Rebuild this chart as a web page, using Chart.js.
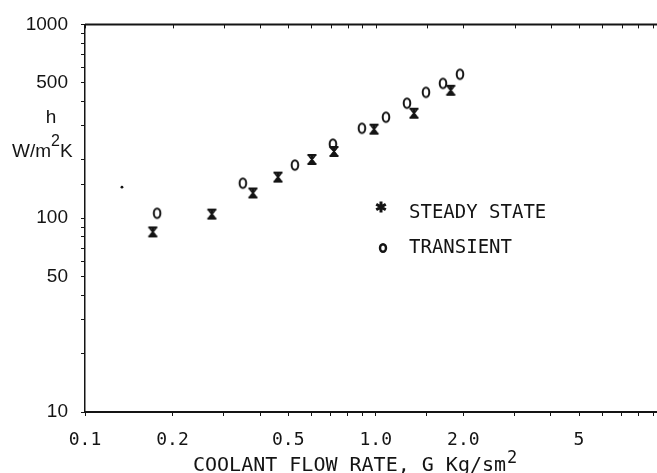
<!DOCTYPE html>
<html>
<head>
<meta charset="utf-8">
<script src="https://cdn.jsdelivr.net/npm/chart.js@4/dist/chart.umd.min.js"></script>
<style>
  html, body { margin: 0; padding: 0; background: #fff; }
  #wrap { width: 657px; height: 473px; }
</style>
</head>
<body>
<div id="wrap"><canvas id="c" width="657" height="473"></canvas></div>
<script>
// ---- data ----
const steadyFlow = [0.171, 0.273, 0.378, 0.461, 0.603, 0.718, 0.986, 1.353, 1.81];
const steadyH    = [85, 105, 135, 163, 201, 221, 288, 348, 457];
const transientFlow = [0.177, 0.349, 0.527, 0.712, 0.896, 1.084, 1.28, 1.488, 1.702, 1.948];
const transientH    = [106, 151.5, 188, 241, 291, 332, 392, 446, 496, 553];
const strayFlow = [0.134];
const strayH    = [144.5];

const xTickValues = [0.1, 0.2, 0.5, 1, 2, 5];
const xTickLabels = ['0.1', '0.2', '0.5', '1.0', '2.0', '5'];
const yTickValues = [10, 50, 100, 500, 1000];
const yTickLabels = ['10', '50', '100', '500', '1000'];

const seriesNames = ['STEADY STATE', 'TRANSIENT'];
const xTitle = 'COOLANT FLOW RATE, G Kg/sm';
const xTitleSup = '2';

const INK = '#141414';

// ---- marker images ----
function makeHourglass() {
  const c = document.createElement('canvas');
  c.width = 12; c.height = 13;
  const g = c.getContext('2d');
  g.strokeStyle = INK; g.lineWidth = 2; g.lineCap = 'butt';
  g.beginPath();
  g.moveTo(1.5, 2); g.lineTo(10.5, 2);
  g.moveTo(1.5, 11); g.lineTo(10.5, 11);
  g.moveTo(2.5, 2); g.lineTo(9.5, 11);
  g.moveTo(9.5, 2); g.lineTo(2.5, 11);
  g.moveTo(6, 2); g.lineTo(6, 11);
  g.stroke();
  return c;
}
function makeO() {
  const c = document.createElement('canvas');
  c.width = 12; c.height = 14;
  const g = c.getContext('2d');
  g.strokeStyle = INK; g.lineWidth = 2;
  g.beginPath();
  g.ellipse(6, 7, 3.3, 4.7, 0, 0, Math.PI * 2);
  g.stroke();
  return c;
}
const hourglass = makeHourglass();
const oMark = makeO();

function toPoints(xs, ys) { return xs.map((x, i) => ({ x: x, y: ys[i] })); }
function near(a, b) { return Math.abs(a - b) / b < 1e-6; }

const overlay = {
  id: 'overlay',
  afterDraw(chart) {
    const ctx = chart.ctx;
    const a = chart.chartArea;
    const xs = chart.scales.x;
    ctx.save();
    // top frame line with inward ticks
    ctx.strokeStyle = INK;
    ctx.lineWidth = 2;
    ctx.beginPath();
    ctx.moveTo(a.left, a.top); ctx.lineTo(chart.width, a.top);
    ctx.stroke();
    ctx.lineWidth = 1;
    ctx.beginPath();
    xs.ticks.forEach(t => {
      const px = Math.round(xs.getPixelForValue(t.value)) + 0.5;
      ctx.moveTo(px, a.top); ctx.lineTo(px, a.top + 4);
    });
    ctx.stroke();

    ctx.fillStyle = INK;
    // x-axis title
    ctx.font = '20px "DejaVu Sans Mono"';
    ctx.textAlign = 'left';
    ctx.textBaseline = 'alphabetic';
    ctx.fillText(xTitle, 193, 471);
    const w = ctx.measureText(xTitle).width;
    ctx.font = '17px "DejaVu Sans Mono"';
    ctx.fillText(xTitleSup, 193 + w + 1, 463);

    // y-axis title
    ctx.font = '19px "Liberation Sans"';
    ctx.textAlign = 'center';
    ctx.fillText('h', 51, 123);
    ctx.textAlign = 'left';
    let x0 = 12;
    ctx.fillText('W/m', x0, 157);
    x0 += ctx.measureText('W/m').width;
    ctx.font = '16px "Liberation Sans"';
    ctx.fillText('2', x0, 146);
    x0 += ctx.measureText('2').width;
    ctx.font = '19px "Liberation Sans"';
    ctx.fillText('K', x0, 157);

    // legend
    ctx.lineWidth = 3;
    ctx.beginPath();
    const cx = 381, cy = 207, r = 5.5;
    for (let k = 0; k < 3; k++) {
      const ang = Math.PI / 2 + k * Math.PI / 3;
      ctx.moveTo(cx + r * Math.cos(ang), cy + r * Math.sin(ang));
      ctx.lineTo(cx - r * Math.cos(ang), cy - r * Math.sin(ang));
    }
    ctx.stroke();
    ctx.lineWidth = 2.4;
    ctx.beginPath();
    ctx.ellipse(383, 248, 3, 3.8, 0, 0, Math.PI * 2);
    ctx.stroke();
    ctx.font = '19px "DejaVu Sans Mono"';
    ctx.fillText(seriesNames[0], 409, 218);
    ctx.fillText(seriesNames[1], 409, 253);
    ctx.restore();
  }
};

new Chart(document.getElementById('c'), {
  type: 'scatter',
  data: {
    datasets: [
      { label: seriesNames[0], data: toPoints(steadyFlow, steadyH), pointStyle: hourglass, pointRadius: 6 },
      { label: seriesNames[1], data: toPoints(transientFlow, transientH), pointStyle: oMark, pointRadius: 6 },
      { label: '', data: toPoints(strayFlow, strayH), pointStyle: 'circle', pointRadius: 1.4,
        backgroundColor: INK, borderColor: INK, borderWidth: 0 }
    ]
  },
  plugins: [overlay],
  options: {
    responsive: false,
    animation: false,
    devicePixelRatio: 1,
    layout: { autoPadding: false, padding: { top: 24, left: 0, right: 0, bottom: 0 } },
    plugins: { legend: { display: false }, tooltip: { enabled: false } },
    scales: {
      x: {
        type: 'logarithmic',
        position: 'bottom',
        min: 0.1,
        max: 9.27,
        border: { display: true, color: INK, width: 2 },
        grid: { display: true, drawOnChartArea: false, drawTicks: true, tickLength: 4, color: INK, lineWidth: 1 },
        ticks: {
          autoSkip: false, maxRotation: 0, minRotation: 0, padding: 14, color: INK,
          font: { family: 'DejaVu Sans Mono', size: 18 },
          callback: (v) => {
            const i = xTickValues.findIndex(t => near(v, t));
            return i >= 0 ? xTickLabels[i] : '';
          }
        },
        afterFit: (s) => { s.height = 61; s.paddingRight = 0; s.paddingLeft = 0; }
      },
      y: {
        type: 'logarithmic',
        position: 'left',
        min: 10,
        max: 1000,
        border: { display: true, color: INK, width: 1.5 },
        grid: { display: true, drawOnChartArea: false, drawTicks: true, tickLength: 4, color: INK, lineWidth: 1 },
        ticks: {
          autoSkip: false, padding: 13, color: INK,
          font: { family: 'Liberation Sans', size: 19 },
          callback: (v) => {
            const i = yTickValues.findIndex(t => near(v, t));
            return i >= 0 ? yTickLabels[i] : '';
          }
        },
        afterFit: (s) => { s.width = 85; }
      }
    }
  }
});
</script>
</body>
</html>
